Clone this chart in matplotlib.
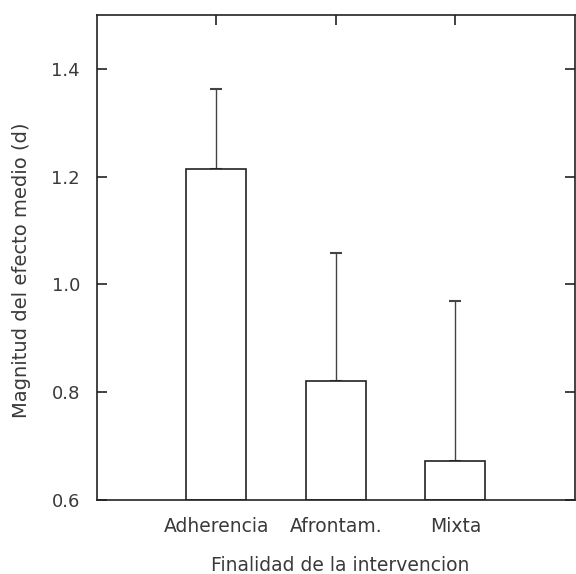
import matplotlib
matplotlib.use("Agg")
import matplotlib.pyplot as plt

categories = ["Adherencia", "Afrontam.", "Mixta"]
means = [1.215, 0.82, 0.672]
upper_err = [0.148, 0.238, 0.298]

plt.rcParams['font.family'] = ['DejaVu Sans']

fig = plt.figure(figsize=(5.76, 5.74), dpi=100)
ax = fig.add_axes([0.168, 0.129, 0.83, 0.845])

xpos = [1, 2, 3]
base = 0.6
ax.bar(xpos, [m - base for m in means], bottom=base, width=0.5,
       color='white', edgecolor='#222222', linewidth=1.2, zorder=2)
ax.errorbar(xpos, means, yerr=[[0, 0, 0], upper_err], fmt='none',
            ecolor='#444444', elinewidth=1.0, capsize=4, capthick=1.5, zorder=1)

ax.set_xlim(0, 4)
ax.set_ylim(0.6, 1.5)
ax.set_xticks(xpos)
ax.set_xticklabels(categories, fontsize=13.5)
ax.set_yticks([0.6, 0.8, 1.0, 1.2, 1.4])
ax.set_yticklabels(["0.6", "0.8", "1.0", "1.2", "1.4"], fontsize=13)
ax.tick_params(axis='both', direction='in', length=7, width=1.2,
               top=True, right=True, colors='#222222',
               labelcolor='#3a3a3a')
ax.tick_params(axis='x', pad=12)
ax.tick_params(axis='y', pad=12)
for sp in ax.spines.values():
    sp.set_linewidth(1.2)
    sp.set_color('#222222')

ax.set_xlabel("Finalidad de la intervencion", fontsize=13.5, color='#3a3a3a')
ax.set_ylabel("Magnitud del efecto medio (d)", fontsize=14, color='#3a3a3a')
ax.xaxis.set_label_coords(0.51, -0.115)
ax.yaxis.set_label_coords(-0.138, 0.474)

fig.savefig("out.png", dpi=100)
